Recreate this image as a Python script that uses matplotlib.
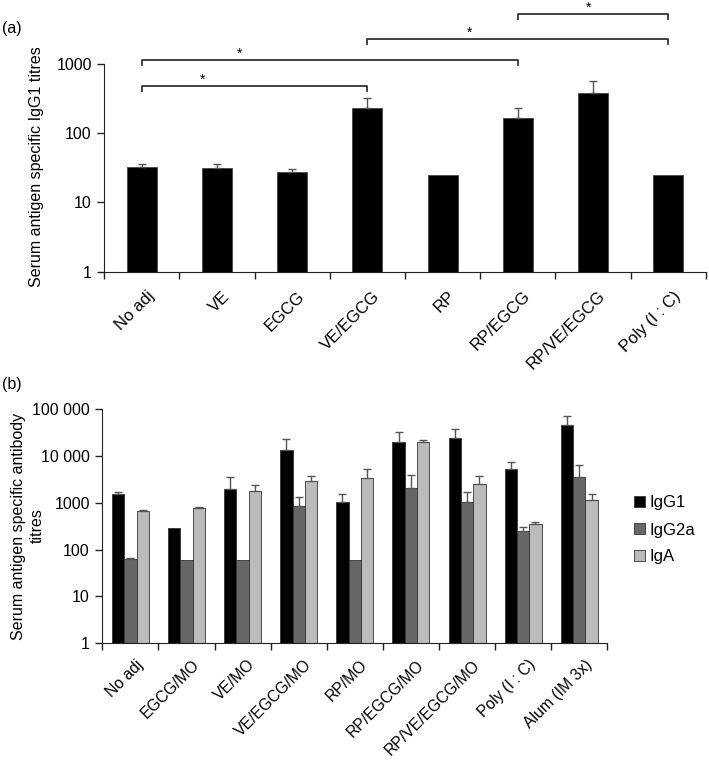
import matplotlib.pyplot as plt
import matplotlib.transforms as mtransforms
from matplotlib.patches import Patch

plt.rcParams["font.family"] = ["Liberation Sans", "DejaVu Sans"]
plt.rcParams["font.size"] = 11

# panel (a): serum IgG1
groups_a = ["No adj", "VE", "EGCG", "VE/EGCG", "RP", "RP/EGCG", "RP/VE/EGCG", "Poly (I : C)"]
igg1_a = [33, 31, 27.5, 234, 25, 168, 378, 25]
igg1_a_top = [36, 35.5, 30.7, 320, 25, 234, 563, 25]

# significance brackets (group index pairs)
sig_pairs = [(0, 3), (0, 5), (3, 7), (5, 7)]
sig_labels = ["*", "*", "*", "*"]

# panel (b): IgG1 / IgG2a / IgA
groups_b = ["No adj", "EGCG/MO", "VE/MO", "VE/EGCG/MO", "RP/MO", "RP/EGCG/MO",
            "RP/VE/EGCG/MO", "Poly (I : C)", "Alum (IM 3x)"]
igg1_b = [1510, 294, 1930, 13100, 1020, 19800, 24100, 5330, 46400]
igg1_b_top = [1720, 294, 3480, 23300, 1540, 32800, 36800, 7520, 69800]
igg2a_b = [63, 61, 61, 851, 61, 2030, 1020, 253, 3600]
igg2a_b_top = [65, 61, 61, 1300, 61, 3850, 1720, 308, 6380]
iga_b = [666, 772, 1750, 2960, 3320, 19800, 2470, 357, 1125]
iga_b_top = [700, 824, 2350, 3720, 5160, 22200, 3720, 388, 1540]
series_b = ["IgG1", "IgG2a", "IgA"]

W, H = 709, 762
fig = plt.figure(figsize=(W / 100, H / 100), dpi=100)


def style_axes(ax, n):
    ax.set_yscale("log")
    for s in ["top", "right"]:
        ax.spines[s].set_visible(False)
    ax.spines["left"].set_color("#222222")
    ax.spines["bottom"].set_color("#222222")
    ax.set_xlim(-0.5, n - 0.5)
    ax.set_xticks([i - 0.5 for i in range(n + 1)])
    ax.set_xticklabels([])
    ax.tick_params(axis="x", which="major", length=5, width=1, color="#222222")
    ax.tick_params(axis="y", which="major", length=5, width=1, color="#222222",
                   pad=4, labelsize=11.5)
    ax.tick_params(axis="y", which="minor", length=0)


def draw_errors(ax, xs, vals, tops):
    for x, v, t in zip(xs, vals, tops):
        if t > v:
            ax.errorbar(x, v, yerr=[[0], [t - v]], fmt="none", ecolor="#555555",
                        elinewidth=1, capsize=3, capthick=1)


def draw_labels(ax, labels, size, pad):
    ax.set_xticks(range(len(labels)), minor=True)
    ax.set_xticklabels(labels, minor=True, rotation=45, ha="right",
                       rotation_mode="anchor", fontsize=size)
    ax.tick_params(axis="x", which="minor", length=0, pad=pad)
    shift = mtransforms.ScaledTranslation(5 / 100, 0, fig.dpi_scale_trans)
    for lab in ax.get_xticklabels(minor=True):
        lab.set_transform(lab.get_transform() + shift)


# ---- panel (a)
axa = fig.add_axes([104.3 / W, 1 - 271.7 / H, 601.4 / W, 207.7 / H])
style_axes(axa, len(groups_a))
xa = list(range(len(groups_a)))
axa.bar(xa, igg1_a, width=0.40, color="black", edgecolor="#444444", linewidth=0.6, zorder=2)
draw_errors(axa, xa, igg1_a, igg1_a_top)
axa.set_ylim(1, 1000)
axa.set_yticks([1, 10, 100, 1000])
axa.set_yticklabels(["1", "10", "100", "1000"])
draw_labels(axa, groups_a, 12, 12)

# brackets above the bars, in axes-fraction heights
levels = [0.896, 1.019, 1.120, 1.241]
star_pos = [0.27, 0.26, 0.34, 0.47]
for (i, j), lab, h, f in zip(sig_pairs, sig_labels, levels, star_pos):
    tip = 0.024
    axa.plot([i, i, j, j], [h - tip, h, h, h - tip], color="#333333", lw=1.3,
             transform=axa.get_xaxis_transform(), clip_on=False)
    axa.text(i + f * (j - i), h + 0.028, lab, ha="center", va="center", fontsize=10,
             transform=axa.get_xaxis_transform())

fig.text(37 / W, 1 - 167 / H, "Serum antigen specific IgG1 titres", rotation=90,
         ha="center", va="center", fontsize=11.5)
fig.text(2 / W, 1 - 28 / H, "(a)", ha="left", va="center", fontsize=11.5)

# ---- panel (b)
axb = fig.add_axes([102.3 / W, 1 - 643.3 / H, 505 / W, 234.3 / H])
style_axes(axb, len(groups_b))
bw = 0.22
colors = ["black", "#666666", "#bbbbbb"]
vals = [igg1_b, igg2a_b, iga_b]
tops = [igg1_b_top, igg2a_b_top, iga_b_top]
for k in range(3):
    xs = [i + (k - 1) * bw for i in range(len(groups_b))]
    axb.bar(xs, vals[k], width=bw, color=colors[k], edgecolor="#333333",
            linewidth=0.6, zorder=2)
    draw_errors(axb, xs, vals[k], tops[k])
axb.set_ylim(1, 100000)
axb.set_yticks([1, 10, 100, 1000, 10000, 100000])
axb.set_yticklabels(["1", "10", "100", "1000", "10 000", "100 000"])
draw_labels(axb, groups_b, 11.3, 10)

handles = [Patch(facecolor=c, edgecolor="#333333", linewidth=0.6) for c in colors]
fig.legend(handles, series_b, loc="center left", bbox_to_anchor=(634 / W, 1 - 530 / H),
           frameon=False, handlelength=0.65, handleheight=0.65, handletextpad=0.3,
           labelspacing=0.72, borderpad=0, borderaxespad=0, fontsize=12)

fig.text(28 / W, 1 - 526 / H, "Serum antigen specific antibody\ntitres", rotation=90,
         ha="center", va="center", fontsize=11.5, multialignment="center",
         linespacing=1.3)
fig.text(2 / W, 1 - 384 / H, "(b)", ha="left", va="center", fontsize=11.5)

fig.savefig("out.png", dpi=100)
